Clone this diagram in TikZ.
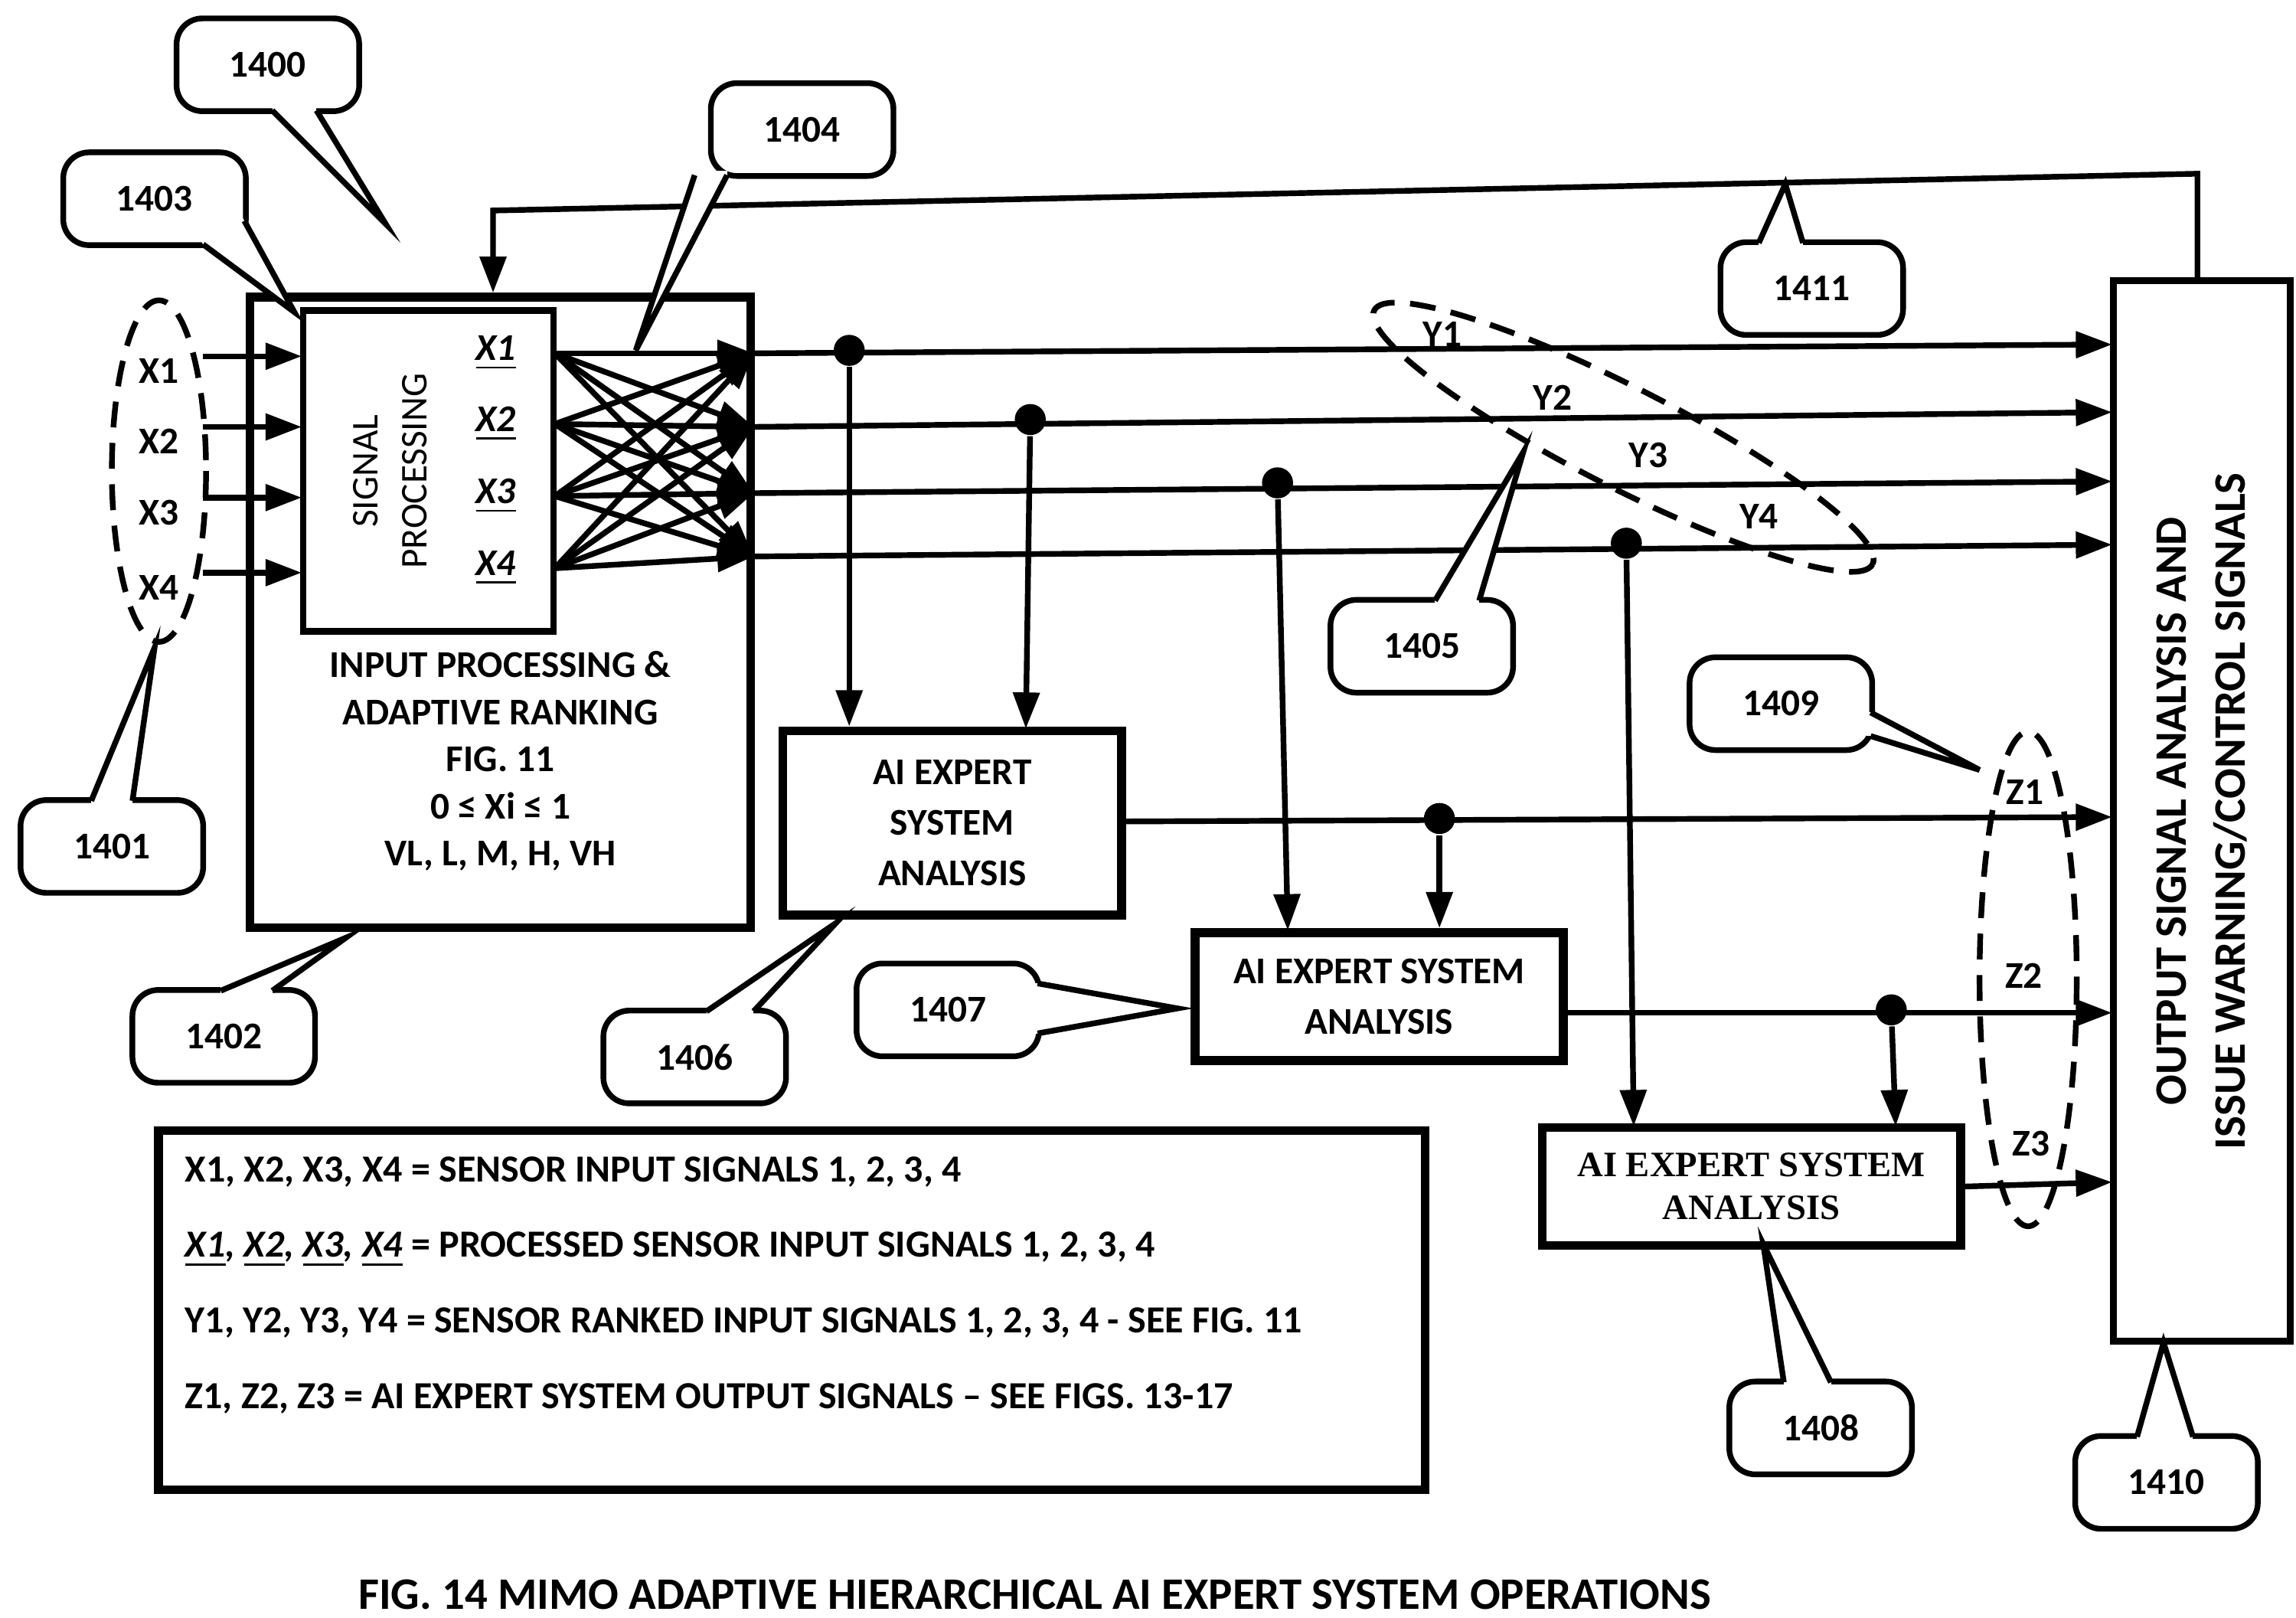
\documentclass[tikz,border=0pt]{standalone}
\usepackage{fontspec}
\setmainfont{Carlito}
\newfontfamily\serifbold{Liberation Serif}
\usetikzlibrary{arrows.meta, positioning}
\tikzset{
  >={Triangle[length=7pt,width=5pt]}, % filled arrow heads
  sig/.style={line width=1.1pt}, % signal lines
  box/.style={draw, line width=1.7pt, align=center, inner sep=0pt},
  callout/.style={draw, line width=1.1pt, rounded corners=5pt, minimum width=1.24cm, minimum height=0.63cm},
  lbl/.style={font=\bfseries\fontsize{7.3}{9}\selectfont, inner sep=0pt},
  dot/.style={circle, fill, inner sep=0pt, minimum size=6pt},
  ring/.style={dashed, line width=1.1pt, dash pattern=on 5pt off 3pt},
}
% callout: name, centre, text, tail base 1, tail base 2, tip
\newcommand\callbox[6]{
  \node[callout, lbl] (#1) at (#2) {#3};
  \fill[white] (#4) -- (#6) -- (#5) -- cycle;
  \draw[white, line width=1.6pt] (#4) -- (#5);
  \draw[line width=1.1pt, line join=miter] (#4) -- (#6) -- (#5);
}
\begin{document}
\begin{tikzpicture}[x=0.01cm, y=-0.01cm]
  \useasboundingbox (0,0) rectangle (1560,1099);

  % input block
  \node[box, minimum width=3.4cm, minimum height=4.28cm] (inbox) at (340,416) {};
  \node[draw, line width=1.3pt, minimum width=1.7cm, minimum height=2.18cm] (sp) at (291,320) {};
  \node[lbl, rotate=90, align=center, font=\fontsize{7.3}{9.5}\selectfont] (sptext) at (265,320) {SIGNAL\\PROCESSING};
  \foreach \i/\y in {1/240, 2/288, 3/337, 4/386}
    \node[lbl, font=\bfseries\itshape\fontsize{7.3}{9}\selectfont] (px\i) at (337,\y) {\underline{X\i}};
  \node[lbl, align=center, font=\bfseries\fontsize{7.3}{9.1}\selectfont] (intext) at (340,517)
    {INPUT PROCESSING \&\\ADAPTIVE RANKING\\FIG. 11\\0 ≤ Xi ≤ 1\\VL, L, M, H, VH};

  % sensor inputs
  \draw[ring] (108,320) ellipse [x radius=32, y radius=116];
  \foreach \i/\y in {1/242, 2/290, 3/338, 4/389} {
    \node[lbl] (x\i) at (108,\y+10) {X\i};
    \coordinate (xs\i) at (138,\y);
    \coordinate (xe\i) at (205,\y);
    \draw[sig, ->] (xs\i) -- (xe\i);
  }

  % cross connections
  \foreach \i/\ya in {1/240, 2/288, 3/337, 4/386}
    \coordinate (co\i) at (377,\ya);
  \foreach \j/\yb in {1/240, 2/290, 3/335, 4/378}
    \coordinate (ci\j) at (512,\yb);
  \foreach \i in {1,...,4}
    \foreach \j in {1,...,4}
      \draw[sig, ->] (co\i) -- (ci\j);

  % output block
  \node[draw, line width=1.3pt, minimum width=1.2cm, minimum height=7.2cm] (outbox) at (1496,551) {};
  \node[lbl, rotate=90, align=center, font=\bfseries\fontsize{8.7}{11.5}\selectfont] (outtext) at (1496,551)
    {OUTPUT SIGNAL ANALYSIS AND\\ISSUE WARNING/CONTROL SIGNALS};

  % ranked signals
  \foreach \j/\yb in {1/234, 2/280, 3/327, 4/370}
    \coordinate (yo\j) at (1435,\yb);
  \foreach \j in {1,...,4}
    \draw[sig, ->] (ci\j) -- (yo\j);
  \draw[ring, rotate around={-27:(1103,297)}] (1103,297) ellipse [x radius=190, y radius=34];
  \node[lbl] (y1) at (980,227) {Y1};
  \node[lbl] (y2) at (1055,270) {Y2};
  \node[lbl] (y3) at (1120,309) {Y3};
  \node[lbl] (y4) at (1195,351) {Y4};

  % expert systems
  \node[box, minimum width=2.3cm, minimum height=1.25cm, font=\bfseries\fontsize{7.3}{9.7}\selectfont] (ai1) at (647,559) {AI EXPERT\\SYSTEM\\ANALYSIS};
  \node[box, minimum width=2.5cm, minimum height=0.87cm, font=\bfseries\fontsize{7.3}{9.7}\selectfont] (ai2) at (937,677) {AI EXPERT SYSTEM\\ANALYSIS};
  \node[box, minimum width=2.84cm, minimum height=0.8cm, font=\serifbold\bfseries\fontsize{6.9}{8.3}\selectfont] (ai3) at (1190,806) {AI EXPERT SYSTEM\\ANALYSIS};

  \node[dot] (d1) at (577,238) {};
  \node[dot] (d2) at (700,285) {};
  \node[dot] (d3) at (868,328) {};
  \node[dot] (d4) at (1105,369) {};
  \draw[sig, ->] (d1) -- (d1 |- ai1.north);
  \draw[sig, ->] (d2) -- (697,495);
  \draw[sig, ->] (d3) -- (875,632);
  \draw[sig, ->] (d4) -- (1110,765);

  % expert outputs
  \coordinate (zo1) at (1435,555);
  \coordinate (zo2) at (1435,688);
  \coordinate (zo3) at (1435,803);
  \draw[sig, ->] (ai1.east |- 0,558) -- (zo1);
  \draw[sig, ->] (ai2.east |- zo2) -- (zo2);
  \draw[sig, ->] (ai3.east) -- (zo3);
  \node[dot] (d5) at (978,556) {};
  \node[dot] (d6) at (1285,686) {};
  \draw[sig, ->] (d5) -- (d5 |- ai2.north);
  \draw[sig, ->] (d6) -- (1288,765);
  \draw[ring] (1378,665) ellipse [x radius=33, y radius=168];
  \node[lbl] (z1) at (1376,538) {Z1};
  \node[lbl] (z2) at (1375,663) {Z2};
  \node[lbl] (z3) at (1380,777) {Z3};

  % feedback
  \coordinate (fb1) at (1493,118);
  \coordinate (fb2) at (335,143);
  \draw[sig, ->] (outbox.north -| fb1) -- (fb1) -- (fb2) -- (fb2 |- inbox.north);

  % legend
  \node[box, minimum width=8.6cm, minimum height=2.44cm] (legend) at (538,890) {};
  \node[lbl, anchor=west, align=left, font=\bfseries\fontsize{7.4}{14.6}\selectfont] (legtext) at (125,873)
    {X1, X2, X3, X4 = SENSOR INPUT SIGNALS 1, 2, 3, 4\\
     {\itshape\underline{X1}, \underline{X2}, \underline{X3}, \underline{X4}} = PROCESSED SENSOR INPUT SIGNALS 1, 2, 3, 4\\
     Y1, Y2, Y3, Y4 = SENSOR RANKED INPUT SIGNALS 1, 2, 3, 4 - SEE FIG. 11\\
     Z1, Z2, Z3 = AI EXPERT SYSTEM OUTPUT SIGNALS – SEE FIGS. 13-17};

  \node[lbl, font=\bfseries\fontsize{8.7}{10}\selectfont] (caption) at (703,1083)
    {FIG. 14 MIMO ADAPTIVE HIERARCHICAL AI EXPERT SYSTEM OPERATIONS};

  % callouts
  \callbox{c1400}{182,44}{1400}{185,75}{215,75}{262,152}
  \callbox{c1403}{105,135}{1403}{138,166}{166,150}{200,212}
  \callbox{c1404}{545,88}{1404}{472,119}{494,119}{432,238}
  \callbox{c1401}{76,575}{1401}{62,544}{90,544}{105,440}
  \callbox{c1402}{152,704}{1402}{150,673}{185,673}{235,637}
  \callbox{c1405}{966,439}{1405}{975,408}{1005,408}{1035,307}
  \callbox{c1406}{472,718}{1406}{480,687}{512,687}{568,627}
  \callbox{c1407}{644,686}{1407}{705,668}{705,702}{800,685}
  \callbox{c1408}{1237,970}{1408}{1212,939}{1244,939}{1198,845}
  \callbox{c1409}{1210,478}{1409}{1271,484}{1271,500}{1345,523}
  \callbox{c1410}{1472,1007}{1410}{1452,976}{1490,976}{1470,912}
  \callbox{c1411}{1231,196}{1411}{1195,165}{1225,165}{1213,125}
\end{tikzpicture}
\end{document}
